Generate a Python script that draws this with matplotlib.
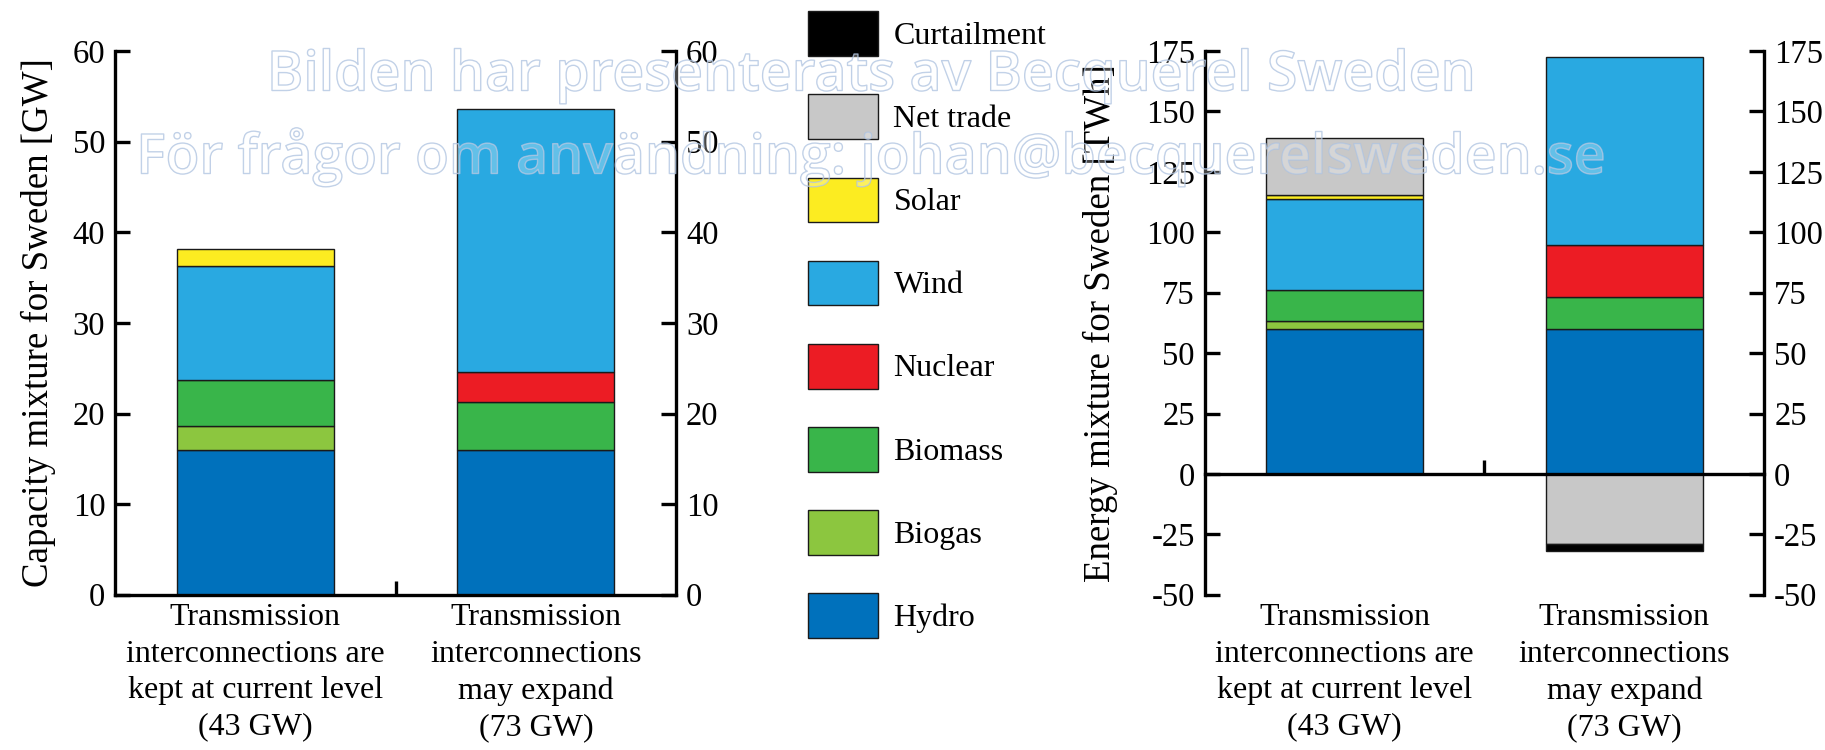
import numpy as np
import matplotlib
matplotlib.use("Agg")
import matplotlib.pyplot as plt
import matplotlib.patheffects as pe
from matplotlib.patches import Patch

plt.rcParams["font.family"] = ["Liberation Serif", "DejaVu Serif"]
plt.rcParams["axes.unicode_minus"] = False

scenarios = ["Transmission\ninterconnections are\nkept at current level\n(43 GW)",
             "Transmission\ninterconnections\nmay expand\n(73 GW)"]

techs = ["Hydro", "Biogas", "Biomass", "Nuclear", "Wind", "Solar", "Net trade", "Curtailment"]
colors = {"Hydro": "#0071bc", "Biogas": "#8cc63f", "Biomass": "#39b54a", "Nuclear": "#ec1c24",
          "Wind": "#29a9e1", "Solar": "#fcec21", "Net trade": "#c8c8c8", "Curtailment": "#000000"}

# installed capacity [GW]
cap_hydro = [16.0, 16.0]
cap_biogas = [2.6, 0.0]
cap_biomass = [5.1, 5.3]
cap_nuclear = [0.0, 3.25]
cap_wind = [12.6, 29.0]
cap_solar = [1.85, 0.0]
cap_trade = [0.0, 0.0]
cap_curt = [0.0, 0.0]

# yearly energy [TWh]
en_hydro = [60.0, 60.0]
en_biogas = [3.2, 0.0]
en_biomass = [13.1, 13.4]
en_nuclear = [0.0, 21.4]
en_wind = [37.5, 77.7]
en_solar = [1.6, 0.0]
en_trade = [23.8, -29.2]
en_curt = [0.0, -2.9]

capacity = dict(zip(techs, [cap_hydro, cap_biogas, cap_biomass, cap_nuclear,
                            cap_wind, cap_solar, cap_trade, cap_curt]))
energy = dict(zip(techs, [en_hydro, en_biogas, en_biomass, en_nuclear,
                          en_wind, en_solar, en_trade, en_curt]))

fig = plt.figure(figsize=(18.25, 7.5), dpi=100)
ax1 = fig.add_axes([0.063, 0.207, 0.3075, 0.725])
ax2 = fig.add_axes([0.660, 0.207, 0.3068, 0.725])

x = np.arange(len(scenarios))
width = 0.56


def stacked(ax, data):
    pos = np.zeros(len(x))
    neg = np.zeros(len(x))
    for t in techs:
        vals = np.asarray(data[t], dtype=float)
        for i, v in enumerate(vals):
            if v > 0:
                ax.bar(x[i], v, width, bottom=pos[i], color=colors[t], edgecolor="#1a1a1a", lw=1.0, zorder=2)
                pos[i] += v
            elif v < 0:
                ax.bar(x[i], v, width, bottom=neg[i], color=colors[t], edgecolor="#1a1a1a", lw=1.0, zorder=2)
                neg[i] += v


def style(ax, ylim, yticks, ylabel, labelpad, zero_axis=False):
    ax.set_xlim(-0.5, 1.5)
    ax.set_ylim(*ylim)
    ax.set_yticks(yticks)
    ax.spines["top"].set_visible(False)
    for s in ["left", "right", "bottom"]:
        ax.spines[s].set_linewidth(2.4)
    ax.tick_params(axis="y", which="both", direction="in", length=11, width=2.4,
                   labelsize=23.5, left=True, right=True, labelleft=True, labelright=True, pad=7)
    ax.set_ylabel(ylabel, fontsize=26.6, labelpad=labelpad)
    # small separator tick between the two scenarios
    ax.set_xticks([0.5])
    ax.set_xticklabels([""])
    ax.tick_params(axis="x", direction="in", length=10, width=2.4)
    if zero_axis:
        ax.spines["bottom"].set_position(("data", 0))
    sec = ax.secondary_xaxis("bottom")
    sec.set_xticks(x)
    sec.set_xticklabels(scenarios, fontsize=23, linespacing=1.34)
    sec.tick_params(length=0, pad=6)
    sec.spines["bottom"].set_visible(False)


stacked(ax1, capacity)
style(ax1, (0, 60), np.arange(0, 61, 10), "Capacity mixture for Sweden [GW]", labelpad=12)

stacked(ax2, energy)
style(ax2, (-50, 175), np.arange(-50, 176, 25), "Energy mixture for Sweden [TWh]", labelpad=20,
      zero_axis=True)

handles = [Patch(facecolor=colors[t], edgecolor="#1a1a1a", lw=1.0) for t in techs[::-1]]
fig.legend(handles, techs[::-1], loc="upper left", bbox_to_anchor=(0.436, 1.002),
           frameon=False, fontsize=23, handlelength=2.19, handleheight=1.78,
           labelspacing=1.2, handletextpad=0.47, borderaxespad=0.0)

# watermark
wm = dict(ha="center", va="center", fontsize=39.8, family="Open Sans", weight="semibold",
          color=(1, 1, 1, 0.15), zorder=10,
          path_effects=[pe.Stroke(linewidth=1.0, foreground=(0.68, 0.76, 0.88, 0.8)), pe.Normal()])
fig.text(0.477, 0.898, "Bilden har presenterats av Becquerel Sweden", **wm)
fig.text(0.477, 0.79, "För frågor om användning: johan@becquerelsweden.se", **wm)

fig.savefig("out.png", dpi=100)
